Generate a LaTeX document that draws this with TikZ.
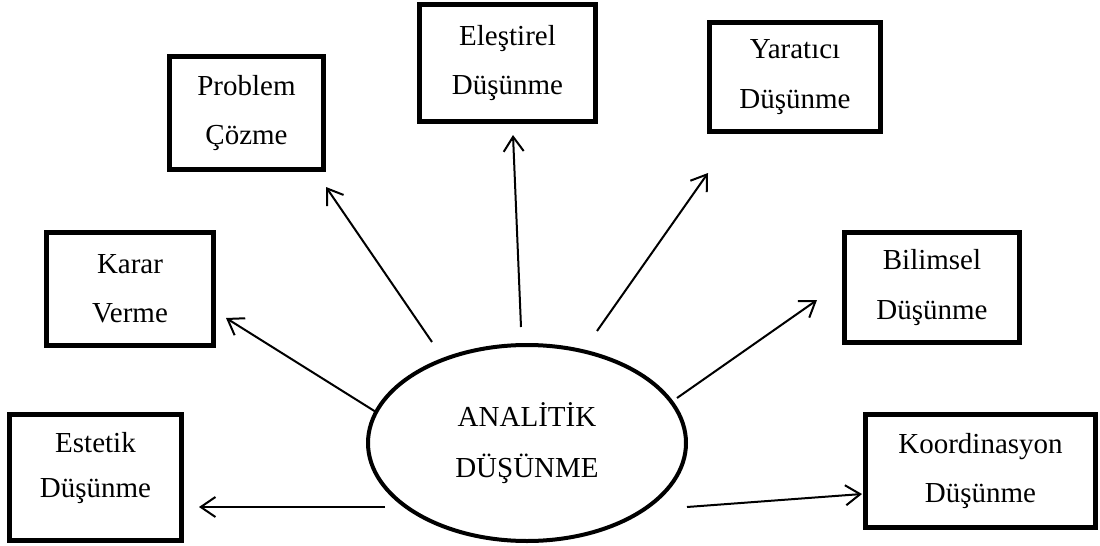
\documentclass[tikz,border=0pt]{standalone}
\usepackage{fontspec}
\setmainfont{Liberation Serif}
\usetikzlibrary{shapes.geometric,arrows.meta}
\begin{document}
\begin{tikzpicture}[x=0.75pt,y=-0.75pt,
  box/.style={draw, line width=3.6pt, rectangle, align=center, inner sep=0pt,
    font=\fontsize{21.75}{37}\selectfont},
  hub/.style={draw, line width=3pt, ellipse, align=center, inner sep=0pt,
    font=\fontsize{21.75}{38}\selectfont},
  conn/.style={line width=1.5pt, -{Straight Barb[length=11pt,width=15pt,line width=1.5pt]}},
]
\useasboundingbox (0,0) rectangle (1100,546);

\node[hub, minimum width=238.5pt, minimum height=147pt] (ana) at (527,443) {ANALİTİK\\DÜŞÜNME};

\node[box, minimum width=115.5pt, minimum height=84.75pt] (prob) at (246.5,113) {Problem\\Çözme};
\node[box, minimum width=132pt, minimum height=87.75pt] (elest) at (507.5,63) {Eleştirel\\Düşünme};
\node[box, minimum width=128.25pt, minimum height=81.75pt] (yarat) at (795,77) {Yaratıcı\\Düşünme};
\node[box, minimum width=125.25pt, minimum height=84.75pt] (karar) at (130,289) {Karar\\Verme};
\node[box, minimum width=131.25pt, minimum height=82.5pt] (bilim) at (932,287.5) {Bilimsel\\Düşünme};
\node[box, minimum width=129pt, minimum height=94.5pt, text depth=19pt,
      font=\fontsize{21.75}{33.5}\selectfont] (estet) at (95.5,477.5) {Estetik\\Düşünme};
\node[box, minimum width=172.5pt, minimum height=84.75pt] (koord) at (980.5,471) {Koordinasyon\\Düşünme};

\coordinate (s1) at (385,507); \coordinate (e1) at (199,507);
\coordinate (s2) at (687,507); \coordinate (e2) at (862,494);
\coordinate (s3) at (376,412); \coordinate (e3) at (226,318);
\coordinate (s4) at (432,342); \coordinate (e4) at (326,187);
\coordinate (s5) at (521,327); \coordinate (e5) at (513,135);
\coordinate (s6) at (597,331); \coordinate (e6) at (708,173);
\coordinate (s7) at (677,398); \coordinate (e7) at (817,300);

\draw[conn] (s1) -- (e1);
\draw[conn] (s2) -- (e2);
\draw[conn] (s3) -- (e3);
\draw[conn] (s4) -- (e4);
\draw[conn] (s5) -- (e5);
\draw[conn] (s6) -- (e6);
\draw[conn] (s7) -- (e7);
\end{tikzpicture}
\end{document}
